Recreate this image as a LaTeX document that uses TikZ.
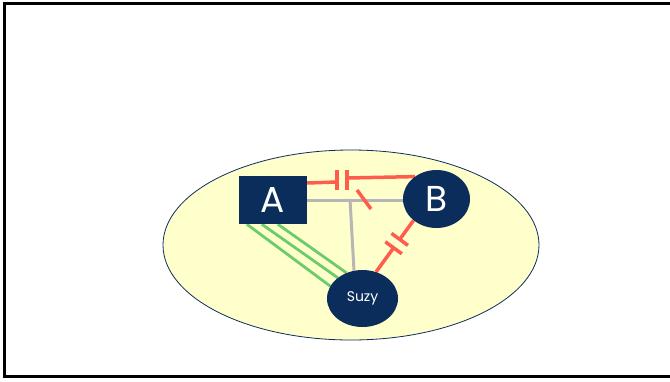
\documentclass[tikz,border=0pt]{standalone}
\usepackage{fontspec}
\setmainfont{Poppins}
\usepackage{tikz}
\usetikzlibrary{shapes.geometric, backgrounds}
\definecolor{navy}{RGB}{10,45,92}
\definecolor{paleyellow}{RGB}{255,255,204}
\definecolor{linkred}{RGB}{255,92,76}
\definecolor{linkgreen}{RGB}{108,204,108}
\definecolor{linkgray}{RGB}{182,182,182}
\tikzstyle{world} = [ellipse, draw=navy, fill=paleyellow, minimum width=376pt, minimum height=190pt, line width=0.8pt]
\tikzstyle{box} = [rectangle, fill=navy, text=white, minimum width=68pt, minimum height=48pt, inner sep=0pt, font=\fontsize{36}{40}\selectfont]
\tikzstyle{agent} = [ellipse, fill=navy, text=white, inner sep=0pt]
\tikzstyle{gap} = [rectangle, minimum width=10pt, minimum height=20pt, inner sep=0pt]
\tikzstyle{cut} = [line width=3.5pt, draw=linkred]
\tikzstyle{trust} = [line width=2.8pt, draw=linkgreen]
\tikzstyle{tie} = [line width=3pt, draw=linkgray]

\begin{document}
\begin{tikzpicture}[x=1pt, y=-1pt]
  \useasboundingbox (0,0) rectangle (670,381);
  \draw[line width=3pt] (4.5,3.3) rectangle (690,376);
  \node(A)[box] at (273,200) {A};
  \node(B)[agent, minimum width=67pt, minimum height=58pt, font=\fontsize{36}{40}\selectfont] at (436.5,199) {B};
  \node(suzy)[agent, minimum width=71pt, minimum height=57pt, font=\fontsize{14}{16}\selectfont] at (362.5,298.5) {Suzy};
  \node(capab)[gap] at (342,180) {};
  \path (B.223) -- (suzy.63) node(capbs)[gap, sloped, allow upside down, pos=0.45] {};
  \coordinate(j) at (350,199);
  \coordinate(s1) at (357,190);
  \coordinate(s2) at (371,209);
  \begin{scope}[on background layer]
    \node(w)[world] at (351,245) {};
    \draw[tie] (A.east) -- (A.east -| B.center);
    \draw[tie] (j) -- (suzy.107);
    \draw[trust] ([xshift=8pt]A.south west) -- (suzy.159);
    \draw[trust] ([xshift=23pt]A.south west) -- (suzy.140);
    \draw[trust] ([xshift=39pt]A.south west) -- (suzy.122);
    \draw[cut] ([yshift=17pt]A.east) -- ([yshift=-2pt]capab.west);
    \draw[cut] ([yshift=2pt]capab.east) -- (B.134);
    \draw[cut] (capab.north west) -- (capab.south west);
    \draw[cut] (capab.north east) -- (capab.south east);
    \draw[cut] (s1) -- (s2);
    \draw[cut] (B.223) -- (capbs.west);
    \draw[cut] (capbs.east) -- (suzy.63);
    \draw[cut] (capbs.north west) -- (capbs.south west);
    \draw[cut] (capbs.north east) -- (capbs.south east);
  \end{scope}
\end{tikzpicture}
\end{document}
